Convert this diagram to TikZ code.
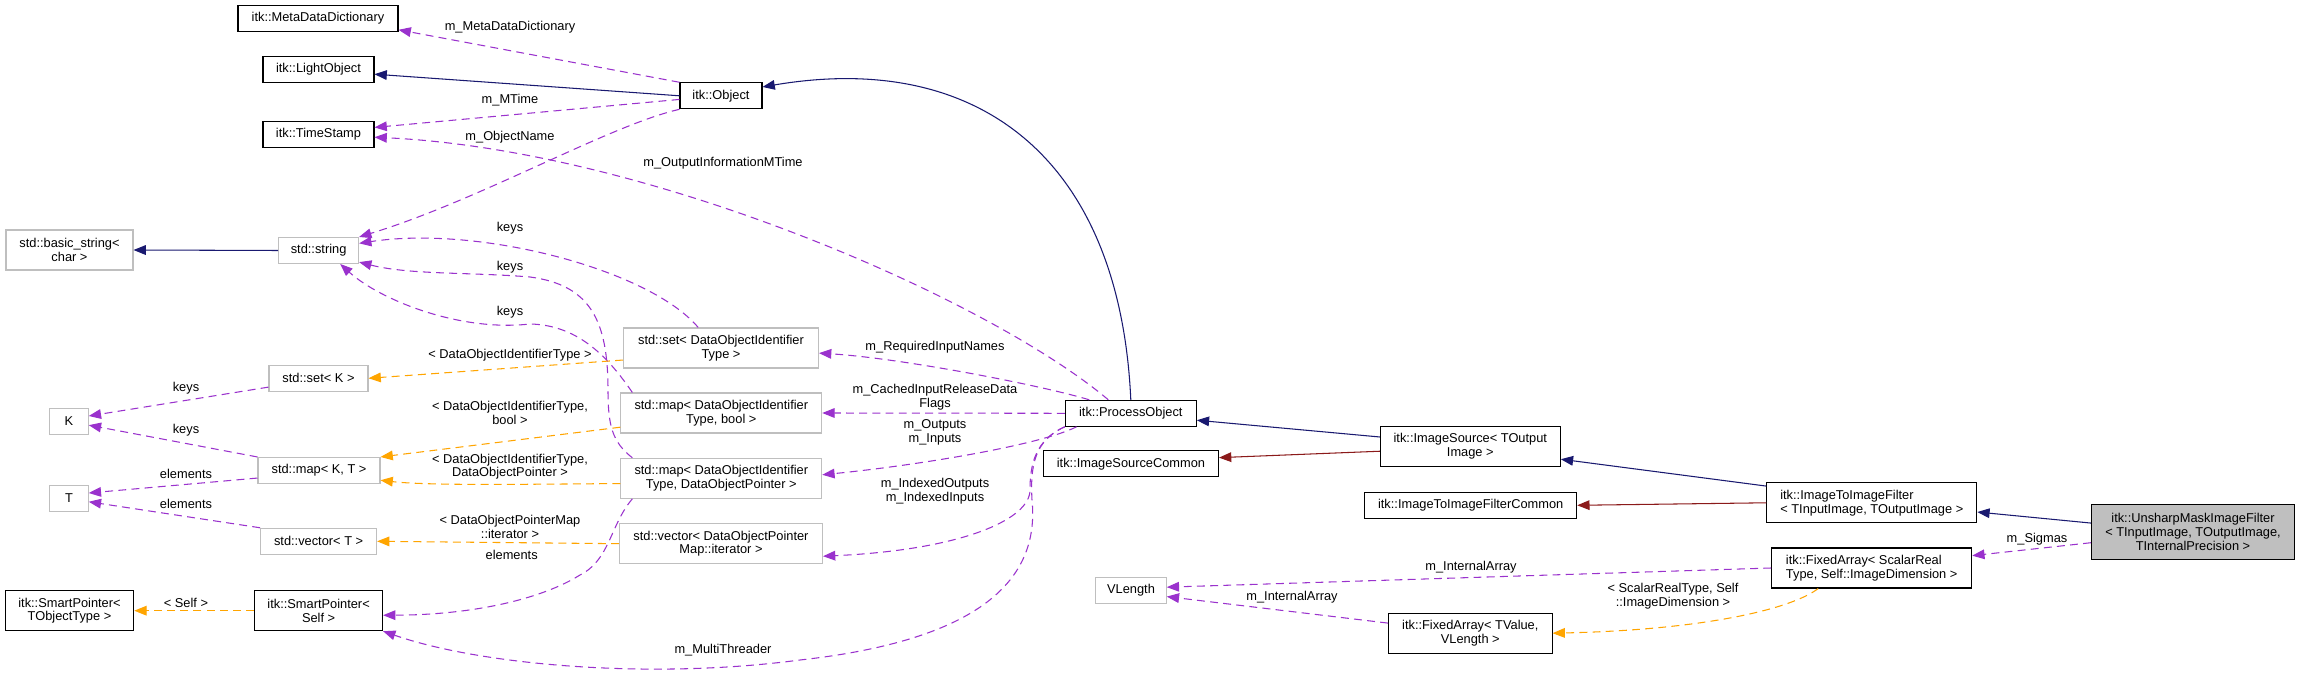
\documentclass[tikz,border=0pt]{standalone}
\usepackage{fontspec}
\setmainfont{Liberation Sans}
\usetikzlibrary{arrows.meta}
\definecolor{inhblue}{HTML}{191970}
\definecolor{tplred}{HTML}{8B1A1A}
\definecolor{usepurple}{HTML}{9A32CD}
\definecolor{tplorange}{HTML}{FFA500}
\definecolor{boxgray}{HTML}{BFBFBF}

\begin{document}
\begin{tikzpicture}[x=0.02cm,y=-0.02cm,
  font=\fontsize{7.3}{7.9}\selectfont,
  >={Triangle[length=7pt,width=5.5pt]},
  cls/.style={draw=black,line width=0.6pt,fill=white,inner sep=1pt,align=center,minimum height=0.52cm},
  ext/.style={cls,draw=boxgray},
  tall/.style={minimum height=0.8cm},
  inh/.style={->,draw=inhblue,line width=0.6pt},
  tpl/.style={->,draw=tplred,line width=0.6pt},
  usage/.style={->,draw=usepurple,line width=0.6pt,dash pattern=on 4.5pt off 3pt},
  inst/.style={->,draw=tplorange,line width=0.6pt,dash pattern=on 4.5pt off 3pt},
  lbl/.style={inner sep=0pt,align=center}]
\path[fill=white,use as bounding box] (0,0) rectangle (2300,678);

% classes
\node[cls,minimum width=3.2cm] (mdd) at (318,18.5) {itk::MetaDataDictionary};
\node[cls,minimum width=2.22cm] (light) at (318.5,69.3) {itk::LightObject};
\node[cls,minimum width=2.22cm] (stamp) at (318.5,134.3) {itk::TimeStamp};
\node[cls,minimum width=1.64cm] (obj) at (721,95.8) {itk::Object};
\node[ext,tall,minimum width=2.54cm] (bstr) at (69.5,250) {std::basic\_string<\\char >};
\node[ext,minimum width=1.6cm] (str) at (318.6,250.5) {std::string};
\node[ext,minimum width=1.98cm] (setk) at (318.5,378.3) {std::set< K >};
\node[ext,minimum width=0.77cm] (kk) at (69,421.3) {K};
\node[ext,minimum width=2.44cm] (mapkt) at (319,470.5) {std::map< K, T >};
\node[ext,minimum width=0.77cm] (tt) at (69,498.3) {T};
\node[ext,minimum width=2.32cm] (vect) at (318.6,541.3) {std::vector< T >};
\node[cls,tall,minimum width=2.57cm] (sptype) at (69.5,610.7) {itk::SmartPointer<\\TObjectType >};
\node[cls,tall,minimum width=2.56cm] (spself) at (318.6,610.7) {itk::SmartPointer<\\Self >};
\node[ext,tall,minimum width=3.9cm] (setdoi) at (721,348) {std::set< DataObjectIdentifier\\Type >};
\node[ext,tall,minimum width=4.02cm] (mapbool) at (721.3,413) {std::map< DataObjectIdentifier\\Type, bool >};
\node[ext,tall,minimum width=4.02cm] (mapdop) at (721.3,478.3) {std::map< DataObjectIdentifier\\Type, DataObjectPointer >};
\node[ext,tall,minimum width=4.06cm] (vecit) at (721,543.7) {std::vector< DataObjectPointer\\Map::iterator >};
\node[cls,minimum width=2.62cm] (proc) at (1130.8,413.3) {itk::ProcessObject};
\node[cls,minimum width=3.5cm] (srccom) at (1131,463.8) {itk::ImageSourceCommon};
\node[ext,minimum width=1.41cm] (vlen) at (1131,590.3) {VLength};
\node[cls,tall,minimum width=3.6cm] (isrc) at (1470.3,446.5) {itk::ImageSource< TOutput\\Image >};
\node[cls,minimum width=4.24cm] (i2icom) at (1470.7,505.3) {itk::ImageToImageFilterCommon};
\node[cls,tall,minimum width=4.2cm,align=left] (i2i) at (1871.8,502.8) {itk::ImageToImageFilter\\< TInputImage, TOutputImage >};
\node[cls,minimum height=1.09cm,minimum width=4.06cm,fill=boxgray] (unsharp) at (2193,532) {itk::UnsharpMaskImageFilter\\< TInputImage, TOutputImage,\\TInternalPrecision >};
\node[cls,tall,minimum width=4cm,align=left] (fxsr) at (1871.7,568) {itk::FixedArray< ScalarReal\\Type, Self::ImageDimension >};
\node[cls,tall,minimum width=3.27cm] (fxtv) at (1470.3,633.2) {itk::FixedArray< TValue,\\VLength >};

% inheritance
\draw[inh] (obj.west) -- (light.-5);
\draw[inh] (proc.north) .. controls (1120,160) and (980,50) .. (obj.12);
\draw[inh] (str.west) -- (bstr.east);
\draw[inh] (isrc.174) -- (proc.-6);
\draw[inh] (i2i.171) -- (isrc.-8);
\draw[inh] (unsharp.175) -- (i2i.-5);
\draw[tpl] (isrc.183) -- (srccom.4);
\draw[tpl] (i2i.west) -- (i2icom.east);

% members
\draw[usage] (obj.north west) -- (mdd.-8);
\node[lbl] (lmdd) at (510,26.7) {m\_MetaDataDictionary};
\draw[usage] (obj.185) -- (stamp.7);
\node[lbl] (lmtime) at (510,100) {m\_MTime};
\draw[usage] (obj.south west) .. controls (610,125) and (480,200) .. (str.north east);
\node[lbl] (lname) at (510,136.7) {m\_ObjectName};
\draw[usage] (proc.149) .. controls (990,300) and (650,150) .. (stamp.-3);
\node[lbl] (loutmt) at (723,163.3) {m\_OutputInformationMTime};
\draw[usage] (setdoi.138) .. controls (650,270) and (480,225) .. (str.10);
\node[lbl] (lkeys1) at (510,228.3) {keys};
\draw[usage] (mapdop.167) .. controls (612,442) and (608,425) .. (608,390)
  .. controls (608,320) and (590,285) .. (530,277) .. controls (470,272) and (410,275) .. (str.-16);
\node[lbl] (lkeys2) at (510,266.7) {keys};
\draw[usage] (mapbool.167) .. controls (610,360) and (580,325) .. (530,324)
  .. controls (460,332) and (380,300) .. (str.-32);
\node[lbl] (lkeys3) at (510,311.7) {keys};
\draw[usage] (setk.-170) -- (kk.15);
\node[lbl] (lkeys4) at (186,388.3) {keys};
\draw[usage] (mapkt.north west) -- (kk.-11);
\node[lbl] (lkeys5) at (186,430) {keys};
\draw[usage] (mapkt.-173) -- (tt.15);
\node[lbl] (lelem1) at (186,474.3) {elements};
\draw[usage] (vect.north west) -- (tt.-10);
\node[lbl] (lelem2) at (186,504) {elements};
\draw[usage] (proc.162) .. controls (1040,385) and (900,358) .. (setdoi.-3.5);
\node[lbl] (lreq) at (935,347.3) {m\_RequiredInputNames};
\draw[usage] (proc.west) -- (mapbool.east);
\node[lbl] (lcache) at (935,397.3) {m\_CachedInputReleaseData\\Flags};
\draw[usage] (proc.194) .. controls (1040,445) and (920,465) .. (mapdop.2);
\node[lbl] (lio) at (935,432.3) {m\_Outputs\\m\_Inputs};
\draw[usage] (proc.south west) .. controls (1035,440) and (1030,465) .. (1030,490)
  .. controls (1030,520) and (960,550) .. (vecit.-7);
\node[lbl] (lidx) at (935,491) {m\_IndexedOutputs\\m\_IndexedInputs};
\draw[usage] (proc.south west) .. controls (1035,440) and (1030,465) .. (1032,500)
  .. controls (1040,580) and (980,640) .. (800,660) .. controls (650,680) and (480,665) .. (spself.south east);
\node[lbl] (lmt) at (723,650) {m\_MultiThreader};
\draw[usage] (mapdop.193) .. controls (610,525) and (610,560) .. (580,575)
  .. controls (540,600) and (470,615) .. (spself.-4);
\node[lbl] (lelem3) at (511.7,555) {elements};
\draw[usage] (unsharp.-174) -- (fxsr.7);
\node[lbl] (lsig) at (2037,539) {m\_Sigmas};
\draw[usage] (fxsr.west) -- (vlen.5);
\node[lbl] (larr1) at (1471,566.7) {m\_InternalArray};
\draw[usage] (fxtv.173) -- (vlen.-10);
\node[lbl] (larr2) at (1292,597) {m\_InternalArray};

% template instances
\draw[inst] (setdoi.-173) -- (setk.east);
\node[lbl] (ltset) at (510,355) {< DataObjectIdentifierType >};
\draw[inst] (mapbool.-172) -- (mapkt.north east);
\node[lbl] (ltbool) at (510,413.3) {< DataObjectIdentifierType,\\bool >};
\draw[inst] (mapdop.-177) .. controls (540,484) and (430,486) .. (mapkt.-9);
\node[lbl] (ltdop) at (510,466.7) {< DataObjectIdentifierType,\\DataObjectPointer >};
\draw[inst] (vecit.west) -- (vect.east);
\node[lbl] (ltit) at (510,526.7) {< DataObjectPointerMap\\::iterator >};
\draw[inst] (spself.west) -- (sptype.east);
\node[lbl] (ltself) at (186,602.7) {< Self >};
\draw[inst] (fxsr.201) .. controls (1790,610) and (1700,630) .. (fxtv.east);
\node[lbl] (ltfx) at (1673,596) {< ScalarRealType, Self\\::ImageDimension >};
\end{tikzpicture}
\end{document}
